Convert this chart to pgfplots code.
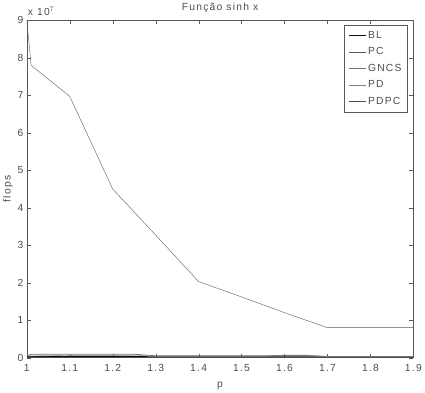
\documentclass[border=0pt]{standalone}
\usepackage{fontspec}
\setmainfont[LetterSpace=12]{Liberation Sans}
\usepackage{pgfplots}
\pgfplotsset{compat=1.18}
\definecolor{c1}{gray}{0.05}
\definecolor{c2}{gray}{0.35}
\definecolor{c3}{gray}{0.45}
\definecolor{c4}{gray}{0.5}
\definecolor{c5}{gray}{0.3}
\begin{document}
\begin{tikzpicture}
\begin{axis}[
  scale only axis, width=393bp, height=343bp,
  clip mode=individual,
  xmin=1, xmax=1.9, ymin=0, ymax=9,
  xtick={1,1.1,...,1.9},
  xticklabels={1,1.1,1.2,1.3,1.4,1.5,1.6,1.7,1.8,1.9},
  ytick={0,1,...,9},
  tick align=inside, tick pos=both,
  major tick length=4pt,
  axis line style={gray!70!black},
  tick style={gray!70!black},
  /pgf/number format/assume math mode=true,
  tick label style={font=\fontsize{10.5}{12}\selectfont, text=gray!60!black},
  xticklabel style={yshift=-3pt},
  xlabel={p}, ylabel={flops},
  label style={font=\fontsize{10.5}{12}\selectfont, text=gray!60!black},
  xlabel style={yshift=-4pt},
  ylabel style={yshift=-2pt},
  title={Função sinh x},
  title style={font=\fontsize{10.5}{12}\selectfont, text=gray!60!black, yshift=-2pt},
  legend style={at={(0.985,0.985)}, anchor=north east, draw=gray!70!black,
    font=\fontsize{10.5}{12}\selectfont, text=gray!60!black, row sep=4pt,
    inner sep=4pt},
  legend cell align=left,
]
\addplot[c1, very thick] coordinates {(1,0.03) (1.1,0.03) (1.2,0.03) (1.3,0.02) (1.4,0.02) (1.5,0.02) (1.6,0.02) (1.7,0.02) (1.8,0.02) (1.9,0.02)};
\addlegendentry{BL}
\addplot[c2] coordinates {(1,9) (1.01,7.8) (1.1,6.97) (1.2,4.5) (1.3,3.27) (1.4,2.03) (1.5,1.62) (1.6,1.2) (1.7,0.8) (1.8,0.8) (1.9,0.8)};
\addlegendentry{PC}
\addplot[c3, thick] coordinates {(1,0.05) (1.01,0.09) (1.1,0.09) (1.2,0.09) (1.25,0.09) (1.3,0.05) (1.4,0.05) (1.5,0.05) (1.55,0.05) (1.6,0.06) (1.65,0.06) (1.7,0.03) (1.8,0.03) (1.9,0.03)};
\addlegendentry{GNCS}
\addplot[c4] coordinates {(1,0.04) (1.1,0.06) (1.2,0.06) (1.25,0.06) (1.3,0.04) (1.4,0.04) (1.5,0.04) (1.55,0.04) (1.6,0.07) (1.65,0.07) (1.7,0.03) (1.8,0.03) (1.9,0.03)};
\addlegendentry{PD}
\addplot[c5] coordinates {(1,0.02) (1.1,0.02) (1.2,0.02) (1.3,0.02) (1.4,0.02) (1.5,0.02) (1.6,0.02) (1.7,0.02) (1.8,0.02) (1.9,0.02)};
\addlegendentry{PDPC}
\node[anchor=south west, font=\fontsize{10.5}{12}\selectfont, text=gray!60!black, inner sep=1pt] at (rel axis cs:0,1.01) {x 10$^{7}$};
\end{axis}
\end{tikzpicture}
\end{document}
